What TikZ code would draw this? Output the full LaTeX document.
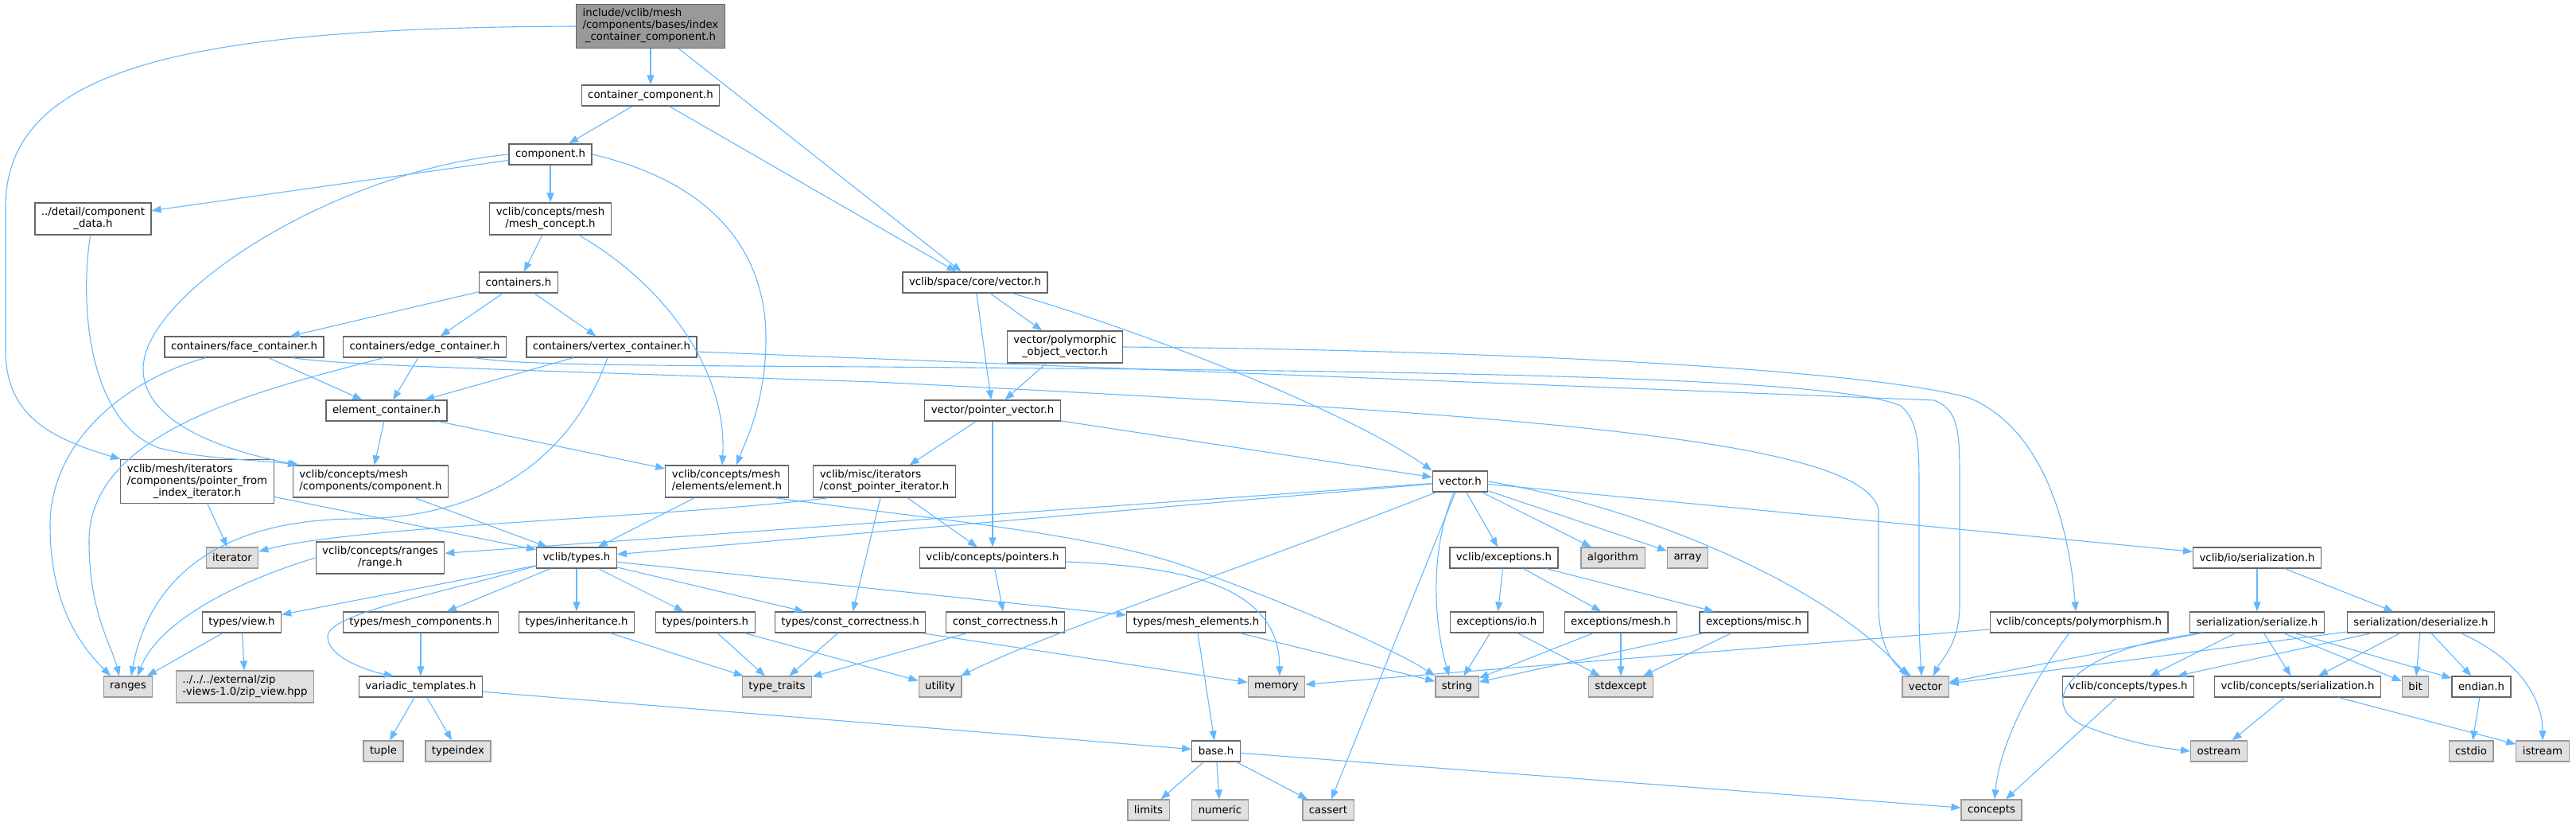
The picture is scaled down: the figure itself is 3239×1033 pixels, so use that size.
\documentclass[tikz,border=0pt]{standalone}
\usepackage{fontspec}
\newfontfamily\dejavu{DejaVu Sans}
\usetikzlibrary{arrows.meta}

\definecolor{edgeblue}{HTML}{63B8FF}
\definecolor{boxline}{HTML}{666666}
\definecolor{sysline}{HTML}{999999}
\definecolor{sysfill}{HTML}{E0E0E0}

% labels broken over lines: leading lines flush left, last one centred
\newcommand{\twolines}[2]{\begin{tabular}{@{}l@{}}#1\\\multicolumn{1}{@{}c@{}}{#2}\end{tabular}}
\newcommand{\threelines}[3]{\begin{tabular}{@{}l@{}}#1\\#2\\\multicolumn{1}{@{}c@{}}{#3}\end{tabular}}

\begin{document}
\begin{tikzpicture}[
    x=1pt, y=-1pt,
    node font={\dejavu\fontsize{13.3}{15}\selectfont},
    hdr/.style={draw=boxline, fill=white, text=black, line width=1.2pt, inner xsep=8pt, inner ysep=5pt, minimum height=26pt},
    syshdr/.style={hdr, draw=sysline, fill=sysfill},
    roothdr/.style={hdr, fill=sysline},
    dep/.style={-{Triangle[length=12pt,width=9pt]}, draw=edgeblue, line width=1.1pt},
]
\useasboundingbox (0,0) rectangle (3239,1033);

% Headers of the project
\node[roothdr] (root) at (818,33) {\threelines{include/vclib/mesh}{/components/bases/index}{\_container\_component.h}};
\node[hdr] (contcomp) at (818,120) {container\_component.h};
\node[hdr] (component) at (692,194) {component.h};
\node[hdr] (compdata) at (117,275) {\twolines{../detail/component}{\_data.h}};
\node[hdr] (meshconcept) at (692,275) {\twolines{vclib/concepts/mesh}{/mesh\_concept.h}};
\node[hdr] (containers) at (652,355) {containers.h};
\node[hdr] (facecont) at (307,436) {containers/face\_container.h};
\node[hdr] (edgecont) at (534,436) {containers/edge\_container.h};
\node[hdr] (vertcont) at (769,436) {containers/vertex\_container.h};
\node[hdr] (elemcont) at (486,516) {element\_container.h};
\node[hdr] (ptrfromidx) at (248,605) {\threelines{vclib/mesh/iterators}{/components/pointer\_from}{\_index\_iterator.h}};
\node[hdr] (conccomp) at (466,605) {\twolines{vclib/concepts/mesh}{/components/component.h}};
\node[hdr] (element) at (914,605) {\twolines{vclib/concepts/mesh}{/elements/element.h}};
\node[hdr] (constptrit) at (1112,605) {\twolines{vclib/misc/iterators}{/const\_pointer\_iterator.h}};
\node[hdr] (spacevec) at (1226,355) {vclib/space/core/vector.h};
\node[hdr] (polyvec) at (1339,436) {\twolines{vector/polymorphic}{\_object\_vector.h}};
\node[hdr] (ptrvec) at (1248,516) {vector/pointer\_vector.h};
\node[hdr] (vectorh) at (1836,605) {vector.h};
\node[hdr] (range) at (478,701) {\twolines{vclib/concepts/ranges}{/range.h}};
\node[hdr] (types) at (725,701) {vclib/types.h};
\node[hdr] (pointers) at (1248,701) {vclib/concepts/pointers.h};
\node[hdr] (exceptions) at (1891,701) {vclib/exceptions.h};
\node[hdr] (ioser) at (2838,701) {vclib/io/serialization.h};
\node[hdr] (view) at (304,782) {types/view.h};
\node[hdr] (meshcomps) at (529,782) {types/mesh\_components.h};
\node[hdr] (inherit) at (725,782) {types/inheritance.h};
\node[hdr] (typptrs) at (887,782) {types/pointers.h};
\node[hdr] (typconst) at (1069,782) {types/const\_correctness.h};
\node[hdr] (constcorr) at (1264,782) {const\_correctness.h};
\node[hdr] (meshelems) at (1504,782) {types/mesh\_elements.h};
\node[hdr] (exio) at (1882,782) {exceptions/io.h};
\node[hdr] (exmesh) at (2038,782) {exceptions/mesh.h};
\node[hdr] (exmisc) at (2205,782) {exceptions/misc.h};
\node[hdr] (polym) at (2614,782) {vclib/concepts/polymorphism.h};
\node[hdr] (serialize) at (2838,782) {serialization/serialize.h};
\node[hdr] (deserialize) at (3044,782) {serialization/deserialize.h};
\node[hdr] (variadic) at (529,863) {variadic\_templates.h};
\node[hdr] (conctypes) at (2676,863) {vclib/concepts/types.h};
\node[hdr] (concser) at (2889,863) {vclib/concepts/serialization.h};
\node[hdr] (endian) at (3120,863) {endian.h};
\node[hdr] (base) at (1529,944) {base.h};

% System headers
\node[syshdr] (iterator) at (292,701) {iterator};
\node[syshdr] (algorithm) at (2028,701) {algorithm};
\node[syshdr] (array) at (2122,701) {array};
\node[syshdr] (ranges) at (161,863) {ranges};
\node[syshdr] (zipview) at (308,863) {\twolines{../../../external/zip}{-views-1.0/zip\_view.hpp}};
\node[syshdr] (typetraits) at (977,863) {type\_traits};
\node[syshdr] (utility) at (1182,863) {utility};
\node[syshdr] (memory) at (1605,863) {memory};
\node[syshdr] (string) at (1832,863) {string};
\node[syshdr] (stdexcept) at (2038,863) {stdexcept};
\node[syshdr] (vector) at (2421,863) {vector};
\node[syshdr] (bit) at (3037,863) {bit};
\node[syshdr] (tuple) at (482,944) {tuple};
\node[syshdr] (typeindex) at (576,944) {typeindex};
\node[syshdr] (ostream) at (2790,944) {ostream};
\node[syshdr] (cstdio) at (3107,944) {cstdio};
\node[syshdr] (istream) at (3197,944) {istream};
\node[syshdr] (limits) at (1444,1018) {limits};
\node[syshdr] (numeric) at (1534,1018) {numeric};
\node[syshdr] (cassert) at (1670,1018) {cassert};
\node[syshdr] (concepts) at (2504,1018) {concepts};

% Upper part
\draw[dep] (root) -- (contcomp);
\draw[dep] (root) -- (spacevec);
\draw[dep] (root.west) .. controls (250,35) and (7,80) .. (7,260) -- (7,440) .. controls (7,520) and (60,550) .. (ptrfromidx.north west);
\draw[dep] (contcomp) -- (component);
\draw[dep] (contcomp) -- (spacevec);
\draw[dep] (component) -- (compdata);
\draw[dep] (component) -- (meshconcept);
\draw[dep] (component.west) .. controls (420,215) and (178,370) .. (180,465) .. controls (182,535) and (290,568) .. ([xshift=8]conccomp.north west);
\draw[dep] (component.east) .. controls (900,230) and (965,320) .. (963,430) .. controls (962,510) and (935,560) .. ([xshift=12]element.north);
\draw[dep] (compdata) .. controls (100,380) and (110,530) .. (200,563) .. controls (260,578) and (330,578) .. ([xshift=6]conccomp.north west);
\draw[dep] (meshconcept) -- (containers);
\draw[dep] (meshconcept) .. controls (840,360) and (915,470) .. ([xshift=-6]element.north);
\draw[dep] (containers) -- (facecont);
\draw[dep] (containers) -- (edgecont);
\draw[dep] (containers) -- (vertcont);
\draw[dep] (facecont) -- (elemcont);
\draw[dep] (edgecont) -- (elemcont);
\draw[dep] (vertcont) -- (elemcont);
\draw[dep] (facecont) .. controls (150,480) and (63,560) .. (63,660) .. controls (63,770) and (110,820) .. ([xshift=-22]ranges.north);
\draw[dep] (edgecont) .. controls (330,490) and (112,540) .. (112,680) .. controls (112,770) and (140,810) .. ([xshift=-11]ranges.north);
\draw[dep] (vertcont) .. controls (720,570) and (620,650) .. (450,652) .. controls (260,652) and (185,740) .. ([xshift=4]ranges.north);
\draw[dep] ([xshift=60]facecont.south) .. controls (430,458) and (520,461) .. (1100,480) .. controls (1900,520) and (2340,550) .. (2362,640) -- (2362,760) .. controls (2362,810) and (2380,835) .. ([xshift=-18]vector.north);
\draw[dep] ([xshift=62]edgecont.south) .. controls (650,457) and (700,459) .. (1100,461) .. controls (1700,466) and (2300,470) .. (2390,510) .. controls (2413,530) and (2413,560) .. (2413,620) -- (2413,760) .. controls (2413,810) and (2415,830) .. ([xshift=-5]vector.north);
\draw[dep] ([yshift=-6]vertcont.east) -- (2432,503) .. controls (2462,515) and (2464,540) .. (2464,600) -- (2464,760) .. controls (2464,810) and (2440,830) .. ([xshift=10]vector.north);
\draw[dep] (elemcont) -- (conccomp);
\draw[dep] (elemcont) -- (element);

% Middle part
\draw[dep] (ptrfromidx) -- (iterator);
\draw[dep] (ptrfromidx) -- (types);
\draw[dep] (conccomp) -- (types);
\draw[dep] (element) -- (types);
\draw[dep] ([xshift=60]element.south) .. controls (1150,650) and (1380,670) .. (1500,715) .. controls (1650,770) and (1760,820) .. (string.north west);
\draw[dep] ([xshift=-70]constptrit.south) .. controls (850,650) and (450,660) .. ([yshift=8]iterator.east);
\draw[dep] (constptrit) -- (typconst);
\draw[dep] (constptrit) -- (pointers);
\draw[dep] (spacevec) -- (polyvec);
\draw[dep] (spacevec) -- (ptrvec);
\draw[dep] (spacevec) .. controls (1450,420) and (1700,520) .. (vectorh.north west);
\draw[dep] (polyvec) -- (ptrvec);
\draw[dep] (polyvec.east) .. controls (1900,440) and (2350,465) .. (2476,500) .. controls (2560,535) and (2600,640) .. ([xshift=-4]polym.north);
\draw[dep] (ptrvec) -- (constptrit);
\draw[dep] (ptrvec) -- (pointers);
\draw[dep] (ptrvec) -- (vectorh);
\draw[dep] (vectorh) -- (types);
\draw[dep] (vectorh) -- (range);
\draw[dep] ([xshift=-30]vectorh.south) .. controls (1520,730) and (1330,790) .. ([xshift=26]utility.north);
\draw[dep] ([xshift=-8]vectorh.south) .. controls (1795,700) and (1805,790) .. ([xshift=-10]string.north);
\draw[dep] ([xshift=-6]vectorh.south) -- ([xshift=4]cassert.north);
\draw[dep] (vectorh) -- (exceptions);
\draw[dep] (vectorh) -- (algorithm);
\draw[dep] (vectorh) -- (array);
\draw[dep] (vectorh.east) .. controls (2080,640) and (2300,740) .. ([xshift=-22]vector.north);
\draw[dep] (vectorh) -- (ioser);
\draw[dep] (range.west) .. controls (300,730) and (200,780) .. ([xshift=12]ranges.north);

% Lower part
\draw[dep] (types) -- (view);
\draw[dep] ([yshift=-10]types.west) .. controls (560,745) and (412,770) .. (412,800) .. controls (412,828) and (470,845) .. ([xshift=-34]variadic.north);
\draw[dep] (types) -- (meshcomps);
\draw[dep] (types) -- (inherit);
\draw[dep] (types) -- (typptrs);
\draw[dep] (types) -- (typconst);
\draw[dep] (types) -- (meshelems);
\draw[dep] (view) -- (ranges);
\draw[dep] (view) -- (zipview);
\draw[dep] (meshcomps) -- (variadic);
\draw[dep] (inherit) -- (typetraits);
\draw[dep] (typptrs) -- (typetraits);
\draw[dep] (typptrs) -- (utility);
\draw[dep] (typconst) -- (typetraits);
\draw[dep] (typconst) -- (memory);
\draw[dep] (constcorr) -- (typetraits);
\draw[dep] (pointers) -- (constcorr);
\draw[dep] ([yshift=-5]pointers.east) .. controls (1500,712) and (1608,740) .. ([xshift=4]memory.north);
\draw[dep] (meshelems) -- (base);
\draw[dep] (meshelems) -- (string);
\draw[dep] (variadic) -- (tuple);
\draw[dep] (variadic) -- (typeindex);
\draw[dep] (variadic) -- (base);
\draw[dep] (base) -- (limits);
\draw[dep] (base) -- (numeric);
\draw[dep] (base) -- (cassert);
\draw[dep] (base) -- (concepts);
\draw[dep] (exceptions) -- (exio);
\draw[dep] (exceptions) -- (exmesh);
\draw[dep] (exceptions) -- ([xshift=-50]exmisc.north);
\draw[dep] (exio) -- (string);
\draw[dep] (exio) -- (stdexcept);
\draw[dep] (exmesh) -- (string);
\draw[dep] (exmesh) -- (stdexcept);
\draw[dep] (exmisc) -- (string);
\draw[dep] (exmisc) -- (stdexcept);
\draw[dep] (polym) -- (memory);
\draw[dep] ([xshift=-12]polym.south) .. controls (2560,850) and (2515,930) .. ([xshift=4]concepts.north);
\draw[dep] (conctypes) -- ([xshift=18]concepts.north);

% Serialization
\draw[dep] (ioser) -- (serialize);
\draw[dep] (ioser) -- (deserialize);
\draw[dep] (serialize) -- (vector);
\draw[dep] ([xshift=-68]serialize.south) .. controls (2600,815) and (2560,885) .. (2620,912) .. controls (2680,935) and (2720,940) .. (ostream.west);
\draw[dep] (serialize) -- (conctypes);
\draw[dep] (serialize) -- (concser);
\draw[dep] (serialize) -- (bit);
\draw[dep] (serialize) -- (endian);
\draw[dep] (deserialize) -- (vector);
\draw[dep] (deserialize) -- (conctypes);
\draw[dep] (deserialize) -- (concser);
\draw[dep] (deserialize) -- (bit);
\draw[dep] (deserialize) -- (endian);
\draw[dep] ([xshift=50]deserialize.south) .. controls (3170,830) and (3197,880) .. (istream.north);
\draw[dep] (concser) -- (ostream);
\draw[dep] (concser) -- (istream);
\draw[dep] (endian) -- (cstdio);

\end{tikzpicture}
\end{document}
